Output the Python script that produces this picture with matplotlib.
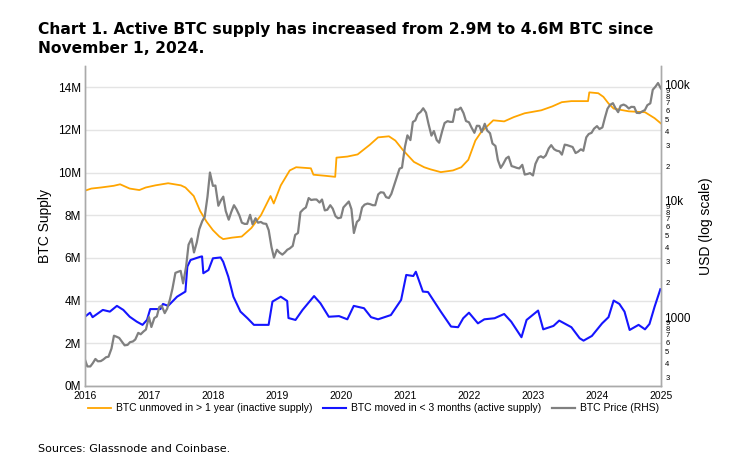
import numpy as np
import pandas as pd
import matplotlib
matplotlib.use("Agg")
import matplotlib.pyplot as plt
from matplotlib.ticker import FixedLocator, FuncFormatter

# inactive supply (BTC unmoved > 1 year), millions
inactive_x = [2016.00, 2016.10, 2016.25, 2016.45, 2016.55, 2016.70, 2016.85, 2016.95,
              2017.10, 2017.30, 2017.40, 2017.50, 2017.57, 2017.70, 2017.80, 2017.90,
              2018.00, 2018.10, 2018.16, 2018.30, 2018.45, 2018.60, 2018.75, 2018.90,
              2018.95, 2019.06, 2019.20, 2019.30, 2019.53, 2019.57, 2019.75, 2019.91,
              2019.93, 2020.10, 2020.26, 2020.45, 2020.58, 2020.75, 2020.85, 2020.97,
              2021.14, 2021.30, 2021.40, 2021.56, 2021.75, 2021.88, 2021.99, 2022.10,
              2022.19, 2022.38, 2022.55, 2022.70, 2022.87, 2023.13, 2023.30, 2023.45,
              2023.60, 2023.86, 2023.88, 2024.02, 2024.10, 2024.18, 2024.26, 2024.50,
              2024.75, 2024.90, 2025.00]
inactive_m = [9.15, 9.25, 9.30, 9.38, 9.45, 9.25, 9.18, 9.30,
              9.40, 9.50, 9.45, 9.40, 9.30, 8.90, 8.20, 7.70,
              7.30, 7.00, 6.88, 6.95, 7.00, 7.40, 8.00, 8.90,
              8.55, 9.40, 10.10, 10.25, 10.20, 9.90, 9.85, 9.80,
              10.70, 10.75, 10.85, 11.30, 11.65, 11.70, 11.50, 11.05,
              10.50, 10.25, 10.15, 10.02, 10.10, 10.25, 10.60, 11.50,
              11.90, 12.45, 12.40, 12.60, 12.78, 12.92, 13.10, 13.30,
              13.35, 13.35, 13.76, 13.72, 13.55, 13.24, 13.00, 12.87,
              12.83, 12.55, 12.30]

# active supply (BTC moved < 3 months), millions
active_x = [2016.00, 2016.08, 2016.12, 2016.28, 2016.39, 2016.50, 2016.60, 2016.70,
            2016.81, 2016.90, 2016.97, 2017.02, 2017.18, 2017.22, 2017.30, 2017.44,
            2017.57, 2017.60, 2017.65, 2017.80, 2017.83, 2017.85, 2017.93, 2018.00,
            2018.12, 2018.16, 2018.24, 2018.32, 2018.43, 2018.54, 2018.64, 2018.87,
            2018.93, 2019.06, 2019.16, 2019.18, 2019.29, 2019.40, 2019.58, 2019.68,
            2019.81, 2019.97, 2020.10, 2020.20, 2020.36, 2020.47, 2020.58, 2020.78,
            2020.94, 2021.02, 2021.13, 2021.17, 2021.28, 2021.36, 2021.56, 2021.72,
            2021.83, 2021.91, 2022.00, 2022.14, 2022.24, 2022.40, 2022.55, 2022.66,
            2022.82, 2022.90, 2023.08, 2023.16, 2023.32, 2023.41, 2023.60, 2023.73,
            2023.79, 2023.92, 2024.08, 2024.18, 2024.26, 2024.35, 2024.43, 2024.51,
            2024.65, 2024.75, 2024.82, 2024.90, 2024.99]
active_m = [3.24, 3.43, 3.22, 3.56, 3.48, 3.75, 3.56, 3.24,
            3.01, 2.86, 3.09, 3.60, 3.60, 3.84, 3.75, 4.18,
            4.42, 5.59, 5.90, 6.05, 6.07, 5.28, 5.43, 5.98,
            6.02, 5.82, 5.12, 4.18, 3.48, 3.17, 2.86, 2.86,
            3.95, 4.18, 3.98, 3.18, 3.09, 3.56, 4.21, 3.87,
            3.24, 3.27, 3.12, 3.75, 3.64, 3.22, 3.12, 3.32,
            4.03, 5.20, 5.15, 5.35, 4.42, 4.40, 3.48, 2.78,
            2.75, 3.17, 3.43, 2.93, 3.12, 3.17, 3.37, 3.01,
            2.28, 3.09, 3.53, 2.65, 2.81, 3.06, 2.75, 2.23,
            2.12, 2.34, 2.93, 3.22, 4.00, 3.84, 3.48, 2.62,
            2.86, 2.65, 2.90, 3.71, 4.53]

# BTC price, USD, 1st and 15th of each month 2016-2024, plus Dec 31 2024
price_usd = [
    430, 375, 375, 400, 435, 415, 417, 430, 450, 455, 535, 690,
    675, 660, 610, 570, 575, 607, 615, 640, 730, 710, 750, 780,
    1000, 820, 980, 1010, 1220, 1250, 1080, 1180, 1420, 1750, 2400, 2450,
    2500, 1950, 2720, 4200, 4750, 3600, 4400, 5700, 6700, 7300, 10900, 17600,
    13500, 13600, 9100, 10100, 10900, 8200, 6900, 8000, 9200, 8500, 7500, 6500,
    6350, 6350, 7600, 6300, 7100, 6500, 6600, 6400, 6350, 5600, 4000, 3250,
    3800, 3600, 3450, 3600, 3800, 3900, 4100, 5100, 5300, 8000, 8500, 8800,
    10600, 10200, 10300, 10300, 9700, 10300, 8300, 8400, 9200, 8600, 7400, 7100,
    7200, 8800, 9400, 9900, 8500, 5300, 6600, 6900, 8800, 9300, 9500, 9400,
    9200, 9200, 11400, 11900, 11800, 10800, 10600, 11500, 13800, 16000, 19000, 19400,
    29400, 36800, 33500, 48000, 49500, 56000, 58800, 63000, 57800, 46400, 36600, 40100,
    33500, 31800, 39900, 47000, 48800, 48100, 48100, 61500, 61300, 63800, 57200, 48900,
    47700, 43100, 38700, 44500, 44400, 39300, 46300, 40500, 38400, 31300, 29800, 22500,
    19300, 20800, 23300, 24100, 20000, 19700, 19300, 19100, 20500, 16900, 17100, 17400,
    16600, 20900, 23700, 24300, 23600, 24700, 28400, 30300, 28000, 27200, 26800, 25100,
    30600, 30300, 29700, 29200, 25900, 26600, 27900, 27100, 35400, 37800, 38700, 42000,
    44200, 41700, 43100, 52000, 62400, 67200, 69700, 63400, 58300, 66200, 67800, 66200,
    62700, 64800, 64600, 57500, 57300, 59100, 60800, 67000, 69500, 91000, 97000, 104000,
    93500]
price_dates = list(pd.date_range("2016-01-01", "2024-12-31", freq="SMS")) + [pd.Timestamp("2024-12-31")]

years = list(range(2016, 2026))


def dec_year(d):
    start = pd.Timestamp(year=d.year, month=1, day=1)
    nxt = pd.Timestamp(year=d.year + 1, month=1, day=1)
    return d.year + (d - start) / (nxt - start)


price_x = np.array([dec_year(d) for d in price_dates])

plt.rcParams['font.family'] = ['Liberation Sans', 'DejaVu Sans']

fig = plt.figure(figsize=(7.32, 4.61), dpi=100)
ax = fig.add_axes([0.116, 0.163, 0.787, 0.694])
ax2 = ax.twinx()

c_orange = "#FFA500"
c_blue = "#1515FF"
c_grey = "#808080"

l1, = ax.plot(inactive_x, np.array(inactive_m) * 1e6, color=c_orange, lw=1.3,
              label="BTC unmoved in > 1 year (inactive supply)")
l2, = ax.plot(active_x, np.array(active_m) * 1e6, color=c_blue, lw=1.5,
              label="BTC moved in < 3 months (active supply)")
l3, = ax2.plot(price_x, price_usd, color=c_grey, lw=1.6, label="BTC Price (RHS)")

ax.set_xlim(2016, 2025)
ax.set_ylim(0, 15e6)
ax.set_yticks(np.arange(0, 15e6, 2e6))
ax.set_yticklabels([f"{int(v/1e6)}M" for v in np.arange(0, 15e6, 2e6)])
ax.set_xticks(years)
ax.set_xticklabels([str(y) for y in years])
ax.grid(axis="y", color="#e4e4e4", lw=1)
ax.set_axisbelow(True)
ax.tick_params(axis="y", labelsize=8.5, length=0, pad=3)
ax.tick_params(axis="x", labelsize=7.5, length=0, pad=4)
ax.set_ylabel("BTC Supply", fontsize=10, labelpad=4)

ax2.set_yscale("log")
ax2.set_ylim(255, 146000)
ax2.yaxis.set_major_locator(FixedLocator([1000, 10000, 100000]))
ax2.yaxis.set_major_formatter(FuncFormatter(lambda v, p: {1000: "1000", 10000: "10k", 100000: "100k"}.get(int(round(v)), "")))
minor = [m * 10 ** k for k in (2, 3, 4) for m in range(2, 10)]
minor = [v for v in minor if 255 <= v <= 146000]
ax2.yaxis.set_minor_locator(FixedLocator(minor))
ax2.yaxis.set_minor_formatter(FuncFormatter(lambda v, p: str(int(round(v / 10 ** np.floor(np.log10(v)))))))
ax2.tick_params(axis="y", which="major", labelsize=8.5, length=0, pad=2)
ax2.tick_params(axis="y", which="minor", labelsize=5.5, length=0, pad=3)
ax2.set_ylabel("USD (log scale)", fontsize=10, labelpad=6)

for a in (ax, ax2):
    a.spines["top"].set_visible(False)
    for s in ("left", "right", "bottom"):
        a.spines[s].set_color("#aaaaaa")
        a.spines[s].set_linewidth(1)

fig.text(0.052, 0.952, "Chart 1. Active BTC supply has increased from 2.9M to 4.6M BTC since\nNovember 1, 2024.",
         fontsize=11.2, fontweight="bold", family="DejaVu Sans", va="top", ha="left", linespacing=1.3)
fig.text(0.052, 0.026, "Sources: Glassnode and Coinbase.", fontsize=8, family="DejaVu Sans", va="center", ha="left")

fig.legend(handles=[l1, l2, l3], loc="center", bbox_to_anchor=(0.51, 0.114), ncol=3,
           frameon=False, fontsize=7.5, handlelength=2.2, columnspacing=1.0, handletextpad=0.5)

fig.savefig("out.png", dpi=100)
